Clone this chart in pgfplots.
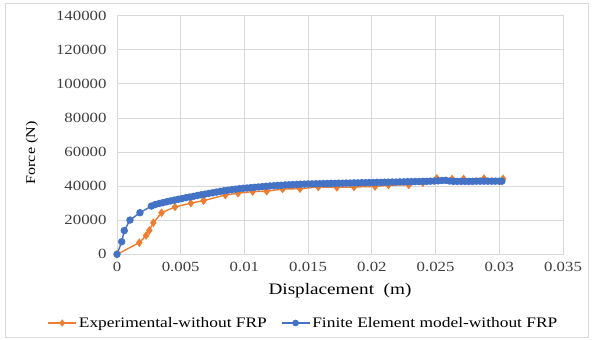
\documentclass[border=0pt]{standalone}
\usepackage{pgfplots}
\pgfplotsset{compat=1.18}
\usepackage{fontspec}
\setmainfont{Liberation Serif}[FakeStretch=1.2]
\definecolor{exporange}{RGB}{237,125,49}
\definecolor{feblue}{RGB}{68,114,196}
\definecolor{gridgray}{RGB}{217,217,217}
\definecolor{ticktext}{RGB}{64,64,64}
\begin{document}
\begin{tikzpicture}
\path (-117pt,-85.7pt) rectangle (475pt,254.3pt);
\draw[gridgray, line width=0.8pt] (-112pt,-82.7pt) rectangle (471pt,251.3pt);
\begin{axis}[
  scale only axis,
  width=446pt, height=238.6pt,
  xmin=0, xmax=0.035, ymin=0, ymax=140000,
  xtick={0,0.005,0.01,0.015,0.02,0.025,0.03,0.035},
  xticklabels={0,0.005,0.01,0.015,0.02,0.025,0.03,0.035},
  ytick={0,20000,40000,60000,80000,100000,120000,140000},
  yticklabels={0,20000,40000,60000,80000,100000,120000,140000},
  scaled x ticks=false, scaled y ticks=false,
  /pgf/number format/assume math mode=true,
  grid=major,
  major grid style={gridgray, line width=0.8pt},
  axis line style={gridgray, line width=0.8pt},
  major tick length=0pt,
  tick label style={font=\fontsize{14}{16}\selectfont, text=ticktext},
  xticklabel style={yshift=-4pt},
  yticklabel style={xshift=-7pt},
  xlabel={Displacement\ \ (m)},
  ylabel={Force (N)},
  xlabel style={font=\fontsize{16}{18}\selectfont, at={(axis description cs:0.5,-0.1526)}, anchor=center},
  ylabel style={font=\fontsize{13.4}{15}\selectfont, at={(axis description cs:-0.1906,0.4246)}, anchor=center},
  clip=false,
  legend columns=2,
  legend style={at={(axis description cs:0.418,-0.288)}, anchor=center, draw=none, fill=none,
    font=\fontsize{14.5}{16}\selectfont, /tikz/every even column/.append style={column sep=12pt}},
  legend image code/.code={\draw[mark repeat=2,mark phase=2,mark size=2.6pt] plot coordinates {(0pt,0pt)(14pt,0pt)(28pt,0pt)};},
]
\addplot[color=exporange, line width=1.4pt, mark=diamond*, mark size=3.2pt, mark options={solid, fill=exporange}] coordinates {
(0,0) (0.00175,6800) (0.00228,11000) (0.00254,14000) (0.00285,18500) (0.0035,24400)
(0.00455,27800) (0.0058,30000) (0.0068,31500) (0.0085,34800) (0.0095,35800)
(0.01065,36800) (0.01175,37000) (0.013,38300) (0.01436,38500) (0.0158,39500)
(0.01725,39300) (0.0186,39500) (0.02025,39800) (0.0213,40600) (0.0229,40700)
(0.024,42000) (0.0251,44500) (0.0263,44200) (0.0272,44200) (0.0288,44500) (0.0303,44300)
};
\addlegendentry{Experimental-without FRP}
\addplot[color=feblue, line width=1.4pt, mark=*, mark size=3pt, mark options={solid, fill=feblue}] coordinates {
(0,0) (0.00037,7400) (0.00057,13900) (0.00102,20100) (0.0018,24400) (0.0027,28300)
(0.0030,29200) (0.0033,29800) (0.0036,30300) (0.0039,30800) (0.0042,31300) (0.0045,31800)
(0.0048,32300) (0.0051,32700) (0.0054,33200) (0.0057,33600) (0.0060,34000) (0.0063,34500)
(0.0066,34900) (0.0069,35300) (0.0072,35700) (0.0075,36100) (0.0078,36500) (0.0081,36900)
(0.0084,37300) (0.0087,37600) (0.0090,37900) (0.0093,38200) (0.0096,38500) (0.0099,38700)
(0.0102,38900) (0.0105,39100) (0.0108,39300) (0.0111,39500) (0.0114,39700) (0.0117,39900)
(0.0120,40100) (0.0123,40200) (0.0126,40400) (0.0129,40500) (0.0132,40700) (0.0135,40800)
(0.0138,40900) (0.0141,41000) (0.0144,41100) (0.0147,41200) (0.0150,41300) (0.0153,41300)
(0.0156,41400) (0.0159,41400) (0.0162,41500) (0.0165,41500) (0.0168,41600) (0.0171,41600)
(0.0174,41700) (0.0177,41700) (0.0180,41800) (0.0183,41800) (0.0186,41900) (0.0189,41900)
(0.0192,42000) (0.0195,42000) (0.0198,42100) (0.0201,42100) (0.0204,42200) (0.0207,42200)
(0.0210,42300) (0.0213,42300) (0.0216,42400) (0.0219,42400) (0.0222,42500) (0.0225,42500)
(0.0228,42600) (0.0231,42600) (0.0234,42700) (0.0237,42700) (0.0240,42800) (0.0243,42800)
(0.0246,42900) (0.0249,43000) (0.0252,43100) (0.0255,43300) (0.0258,43400) (0.0261,43000)
(0.0264,42800) (0.0267,42800) (0.0270,42800) (0.0273,42800) (0.0276,42800) (0.0279,42800)
(0.0282,42900) (0.0285,42900) (0.0288,42900) (0.0291,42900) (0.0294,42900) (0.0297,42900)
(0.0300,42900) (0.0302,42900)
};
\addlegendentry{Finite Element model-without FRP}
\end{axis}
\end{tikzpicture}
\end{document}
